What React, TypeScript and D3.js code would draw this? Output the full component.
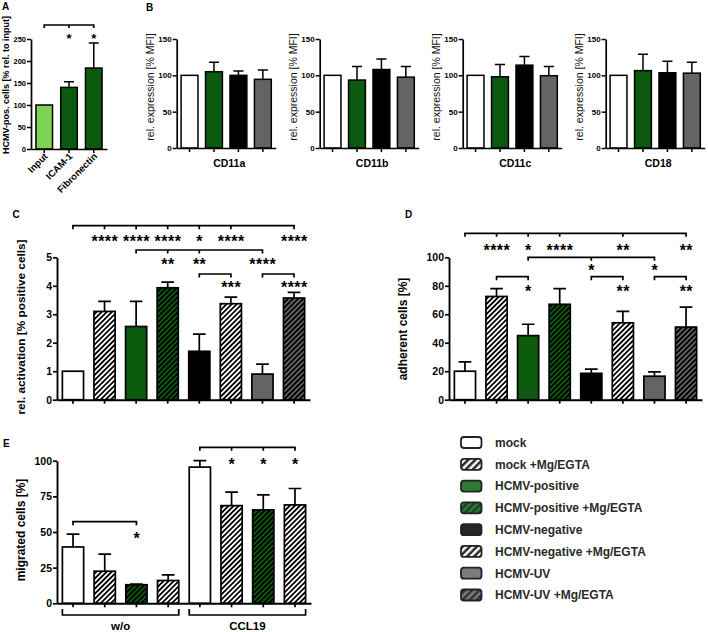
import React, { useRef, useEffect } from 'react'
import * as d3 from 'd3'

const FONT = '"Liberation Sans", Arial, Helvetica, sans-serif'

// ---- data ----
const conditions = ['mock', 'mock +Mg/EGTA', 'HCMV-positive', 'HCMV-positive +Mg/EGTA', 'HCMV-negative', 'HCMV-negative +Mg/EGTA', 'HCMV-UV', 'HCMV-UV +Mg/EGTA']

const aLabels = ['Input', 'ICAM-1', 'Fibronectin']
const aMean = [100, 140, 184]
const aSd = [0, 13, 57]

const bMarkers = ['CD11a', 'CD11b', 'CD11c', 'CD18']
const bConditions = ['mock', 'HCMV-positive', 'HCMV-negative', 'HCMV-UV']
const cd11aMean = [100, 105, 100, 94.5]
const cd11aSd = [0, 13, 6, 13]
const cd11bMean = [100, 93.5, 108, 97.5]
const cd11bSd = [0, 18.5, 14.5, 14.5]
const cd11cMean = [100, 98, 114, 99.5]
const cd11cSd = [0, 17, 12, 12.5]
const cd18Mean = [100, 106.5, 103.5, 103]
const cd18Sd = [0, 22.5, 16, 15]

const cMean = [1.0, 3.1, 2.57, 3.93, 1.7, 3.37, 0.9, 3.57]
const cSd = [0, 0.35, 0.88, 0.2, 0.6, 0.23, 0.35, 0.2]

const dMean = [20, 72.5, 45, 67, 18.5, 54, 16.5, 51]
const dSd = [6.5, 5.5, 8, 11, 3, 8, 3, 14]

const eGroups = ['w/o', 'CCL19']
const eConditions = ['mock', 'mock +Mg/EGTA', 'HCMV-positive +Mg/EGTA', 'HCMV-negative +Mg/EGTA', 'mock', 'mock +Mg/EGTA', 'HCMV-positive +Mg/EGTA', 'HCMV-negative +Mg/EGTA']
const eMean = [39.5, 22.5, 13, 16, 95.5, 68.5, 65.5, 69]
const eSd = [9, 12, 0.4, 4, 4.5, 9.5, 10.5, 11.5]

// significance: level, span, ticks, stars [bar, text]
type Sig = { level: number; span: [number, number]; ticks: number[]; stars: [number, string][] }
const aSig: Sig[] = [{ level: 0, span: [0, 2], ticks: [1], stars: [[1, '*'], [2, '*']] }]
const cSig: Sig[] = [
  { level: 0, span: [0, 7], ticks: [1, 2, 3, 4, 5], stars: [[1, '****'], [2, '****'], [3, '****'], [4, '*'], [5, '****'], [7, '****']] },
  { level: 1, span: [2, 6], ticks: [3, 4], stars: [[3, '**'], [4, '**'], [6, '****']] },
  { level: 2, span: [4, 5], ticks: [], stars: [[5, '***']] },
  { level: 2, span: [6, 7], ticks: [], stars: [[7, '****']] },
]
const dSig: Sig[] = [
  { level: 0, span: [0, 7], ticks: [1, 2, 3, 5], stars: [[1, '****'], [2, '*'], [3, '****'], [5, '**'], [7, '**']] },
  { level: 1, span: [2, 6], ticks: [4], stars: [[4, '*'], [6, '*']] },
  { level: 2, span: [1, 2], ticks: [], stars: [[2, '*']] },
  { level: 2, span: [4, 5], ticks: [], stars: [[5, '**']] },
  { level: 2, span: [6, 7], ticks: [], stars: [[7, '**']] },
]
const eSig: Sig[] = [
  { level: 0, span: [4, 7], ticks: [5, 6], stars: [[5, '*'], [6, '*'], [7, '*']] },
  { level: 1, span: [0, 2], ticks: [], stars: [[2, '*']] },
]

const GREEN = '#0b5a0d'
const GRAY = '#646464'

const barFill: Record<string, string> = {
  'mock': '#ffffff',
  'mock +Mg/EGTA': 'url(#hw)',
  'HCMV-positive': GREEN,
  'HCMV-positive +Mg/EGTA': 'url(#hg)',
  'HCMV-negative': '#000000',
  'HCMV-negative +Mg/EGTA': 'url(#hw)',
  'HCMV-UV': GRAY,
  'HCMV-UV +Mg/EGTA': 'url(#hgr)',
}
const legendFill: Record<string, string> = {
  'mock': '#ffffff',
  'mock +Mg/EGTA': 'url(#lw)',
  'HCMV-positive': '#2c7a35',
  'HCMV-positive +Mg/EGTA': 'url(#lg)',
  'HCMV-negative': '#262626',
  'HCMV-negative +Mg/EGTA': 'url(#lk)',
  'HCMV-UV': '#7c7c7c',
  'HCMV-UV +Mg/EGTA': 'url(#lgr)',
}

type Sel = d3.Selection<SVGGElement, unknown, null, undefined>

function barPanel(svg: Sel, o: {
  left: number; right: number; top: number; bottom: number; max: number; step: number;
  means: number[]; sds: number[]; fills: string[]; tickFs: number; padIn: number; padOut: number; lw?: number
}) {
  const lw = o.lw ?? 1.7
  const y = d3.scaleLinear().domain([0, o.max]).range([o.bottom, o.top])
  const x = d3.scaleBand<number>().domain(d3.range(o.means.length)).range([o.left, o.right]).paddingInner(o.padIn).paddingOuter(o.padOut)
  const g = svg.append('g')
  const bw = x.bandwidth()
  const cap = bw * 0.3
  g.selectAll('path.err').data(o.means).join('path').attr('class', 'err')
    .attr('d', (d, i) => {
      const cx = (x(i) as number) + bw / 2
      const yt = y(d + o.sds[i])
      return `M${cx},${y(d)}V${yt}M${cx - cap},${yt}H${cx + cap}`
    })
    .attr('stroke', '#000').attr('stroke-width', lw).attr('fill', 'none')
    .attr('display', (d, i) => (o.sds[i] > 0 ? null : 'none'))
  g.selectAll('rect.bar').data(o.means).join('rect').attr('class', 'bar')
    .attr('x', (d, i) => x(i) as number).attr('y', d => y(d))
    .attr('width', bw).attr('height', d => y(0) - y(d))
    .attr('fill', (d, i) => o.fills[i]).attr('stroke', '#000').attr('stroke-width', lw)

  const yAxis = d3.axisLeft(y).tickValues(d3.range(0, o.max + o.step / 2, o.step))
    .tickFormat(d3.format('~g') as any).tickSize(4).tickSizeOuter(0).tickPadding(1)
  const ya = g.append('g').attr('transform', `translate(${o.left},0)`).call(yAxis)
  ya.attr('font-family', FONT).attr('font-size', o.tickFs).attr('font-weight', 'bold')
  ya.select('.domain').attr('stroke-width', lw + 0.2)
  ya.selectAll('.tick line').attr('stroke-width', lw)
  ya.selectAll('.tick text').attr('fill', '#000')

  const xAxis = d3.axisBottom(x).tickFormat(() => '').tickSize(4).tickSizeOuter(0)
  const xa = g.append('g').attr('transform', `translate(0,${o.bottom})`).call(xAxis)
  xa.select('.domain').attr('stroke-width', lw + 0.2)
  xa.selectAll('.tick line').attr('stroke-width', lw)
  return { x, y, g }
}

// levels: y of each bracket row, starY: y of the star centres for that row
function sigMarks(g: Sel, x: d3.ScaleBand<number>, sigs: Sig[], levels: number[], starY: number[], fs: number, tick = 3.5) {
  const cx = (i: number) => (x(i) as number) + x.bandwidth() / 2
  sigs.forEach(s => {
    const yl = levels[s.level]
    let d = `M${cx(s.span[0])},${yl + tick}V${yl}H${cx(s.span[1])}V${yl + tick}`
    s.ticks.forEach(t => { d += `M${cx(t)},${yl}v${tick}` })
    g.append('path').attr('d', d).attr('fill', 'none').attr('stroke', '#000').attr('stroke-width', 1.7)
    s.stars.forEach(([i, txt]) => {
      g.append('text').attr('x', cx(i) + fs * 0.02).attr('y', starY[s.level] + fs * 0.58)
        .attr('text-anchor', 'middle').attr('font-family', FONT).attr('font-size', fs).attr('font-weight', 'bold')
        .attr('letter-spacing', fs * 0.03)
        .text(txt)
    })
  })
}

function label(svg: Sel, txt: string, x: number, y: number, fs: number, opts: { rot?: number; weight?: string; anchor?: string; fill?: string } = {}) {
  svg.append('text').attr('transform', `translate(${x},${y}) rotate(${opts.rot ?? 0})`)
    .attr('text-anchor', opts.anchor ?? 'middle').attr('font-family', FONT).attr('font-size', fs)
    .attr('font-weight', opts.weight ?? 'bold').attr('fill', opts.fill ?? '#000').text(txt)
}

function App() {
  const ref = useRef<SVGSVGElement>(null)

  useEffect(() => {
    const root = d3.select(ref.current)
    root.selectAll('*').remove()
    const defs = root.append('defs')
    const hatch = (id: string, bg: string, fg: string, period: number, frac = 0.5) => {
      const p = defs.append('pattern').attr('id', id).attr('patternUnits', 'userSpaceOnUse')
        .attr('width', period).attr('height', period).attr('patternTransform', 'rotate(45)')
      p.append('rect').attr('width', period).attr('height', period).attr('fill', bg)
      p.append('rect').attr('width', period * frac).attr('height', period).attr('fill', fg)
    }
    hatch('hw', '#ffffff', '#000000', 3.6)
    hatch('hg', GREEN, '#000000', 3.6)
    hatch('hgr', GRAY, '#000000', 3.6)
    hatch('lw', '#ffffff', '#262626', 5)
    hatch('lg', '#2c7a35', '#1d3d20', 5)
    hatch('lk', '#262626', '#ffffff', 5)
    hatch('lgr', '#7c7c7c', '#333333', 5)

    const svg = root.append('g') as unknown as Sel

    // ---- panel A ----
    label(svg, 'A', 2, 10, 10, { anchor: 'start' })
    const A = barPanel(svg, {
      left: 31, right: 107, top: 39, bottom: 149, max: 250, step: 50,
      means: aMean, sds: aSd, fills: ['#7ed452', GREEN, GREEN], tickFs: 7.5, padIn: 0.33, padOut: 0.2, lw: 1.5,
    })
    aLabels.forEach((t, i) => {
      const cx = (A.x(i) as number) + A.x.bandwidth() / 2
      label(svg, t, cx + 4, 157, 9.5, { rot: -45, anchor: 'end' })
    })
    label(svg, 'HCMV-pos. cells [% rel. to input]', 9, 85, 9, { rot: -90 })
    sigMarks(svg, A.x, aSig, [25], [35], 13, 3)

    // ---- panel B ----
    label(svg, 'B', 146, 11, 10, { anchor: 'start' })
    const bMeans = [cd11aMean, cd11bMean, cd11cMean, cd18Mean]
    const bSds = [cd11aSd, cd11bSd, cd11cSd, cd18Sd]
    bMarkers.forEach((m, k) => {
      const left = 176.7 + k * 143
      barPanel(svg, {
        left, right: left + 99, top: 39, bottom: 148, max: 150, step: 50,
        means: bMeans[k], sds: bSds[k], fills: bConditions.map(c => barFill[c]), tickFs: 8, padIn: 0.31, padOut: 0.18, lw: 1.5,
      })
      label(svg, m, (left + left + 99) / 2 + 3, 167, 10.5)
      label(svg, 'rel. expression [% MFI]', left - 23, 87, 10.5, { rot: -90, weight: 'normal', fill: '#111' })
    })

    // ---- panel C ----
    label(svg, 'C', 12.5, 218, 10, { anchor: 'start' })
    const C = barPanel(svg, {
      left: 57, right: 310, top: 257.3, bottom: 399.7, max: 5, step: 1,
      means: cMean, sds: cSd, fills: conditions.map(c => barFill[c]), tickFs: 10.5, padIn: 0.33, padOut: 0.17,
    })
    label(svg, 'rel. activation [% positive cells]', 25, 327, 11.8, { rot: -90 })
    sigMarks(svg, C.x, cSig, [225.7, 250, 274], [238, 261, 283.3], 16)

    // ---- panel D ----
    label(svg, 'D', 405, 218, 10, { anchor: 'start' })
    const D = barPanel(svg, {
      left: 449, right: 702, top: 257.3, bottom: 399.7, max: 100, step: 20,
      means: dMean, sds: dSd, fills: conditions.map(c => barFill[c]), tickFs: 10.5, padIn: 0.33, padOut: 0.17,
    })
    label(svg, 'adherent cells [%]', 407, 329, 12, { rot: -90 })
    sigMarks(svg, D.x, dSig, [233.3, 257.3, 276.7], [246.7, 267, 288], 16)

    // ---- panel E ----
    label(svg, 'E', 3, 447, 10, { anchor: 'start' })
    const E = barPanel(svg, {
      left: 57, right: 311, top: 460.7, bottom: 603.3, max: 100, step: 25,
      means: eMean, sds: eSd, fills: eConditions.map(c => barFill[c]), tickFs: 10.5, padIn: 0.33, padOut: 0.17,
    })
    label(svg, 'migrated cells [%]', 25, 530, 12, { rot: -90 })
    sigMarks(svg, E.x, eSig, [447.3, 521.7], [460.7, 535], 16)
    eGroups.forEach((gname, k) => {
      const i0 = k * 4, i1 = k * 4 + 3
      const xa = E.x(i0) as number, xb = (E.x(i1) as number) + E.x.bandwidth()
      svg.append('path').attr('d', `M${xa},609V615H${xb}V609`).attr('fill', 'none').attr('stroke', '#000').attr('stroke-width', 1.7)
      label(svg, gname, (xa + xb) / 2, 630, 11.5)
    })

    // ---- legend ----
    const ly = d3.scaleLinear().domain([0, conditions.length - 1]).range([442.5, 595])
    const lg = svg.append('g')
    lg.selectAll('rect').data(conditions).join('rect')
      .attr('x', 461).attr('y', (d, i) => ly(i) - 5.5).attr('width', 20.5).attr('height', 11).attr('rx', 3)
      .attr('fill', d => legendFill[d]).attr('stroke', '#222').attr('stroke-width', 1.8)
    lg.selectAll('text').data(conditions).join('text')
      .attr('x', 495).attr('y', (d, i) => ly(i) + 4.3)
      .attr('font-family', FONT).attr('font-size', 12).attr('font-weight', 'bold').attr('fill', '#2a2a2a')
      .text(d => d)
  }, [])

  return <svg ref={ref} width={708} height={632} style={{ position: 'absolute', left: 0, top: 0, background: '#fff' }} />
}

export default App
